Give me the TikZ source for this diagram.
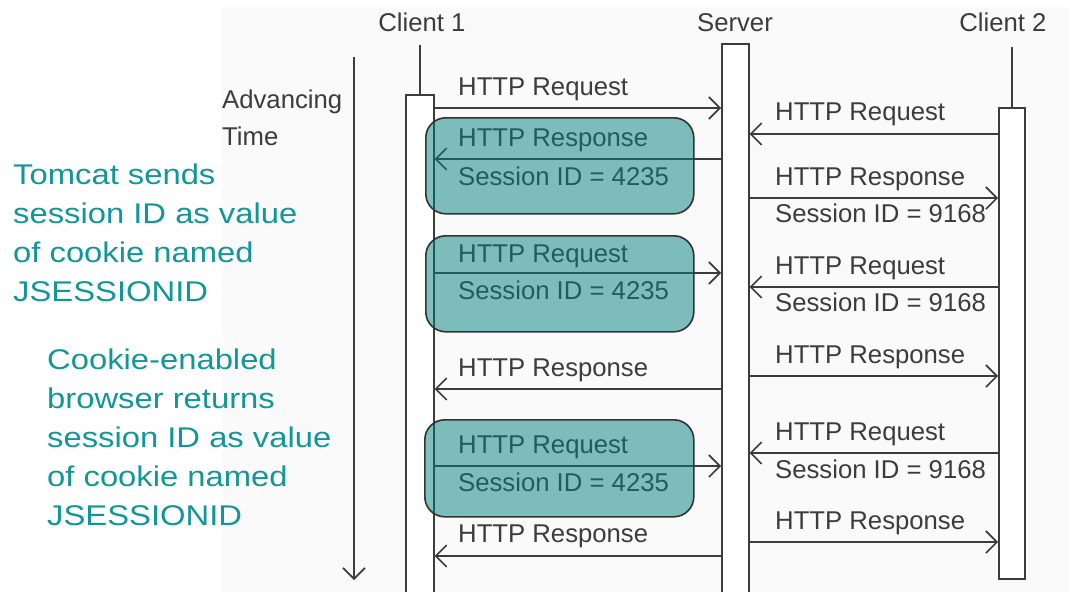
\documentclass[tikz,border=0pt]{standalone}
\usepackage{fontspec}
\setmainfont{Liberation Sans}
\newfontfamily\notefont[FakeStretch=1.15]{Liberation Sans}
\usepackage{tikz}
\usetikzlibrary{arrows.meta,positioning}
\definecolor{inkgray}{RGB}{60,60,60}
\definecolor{noteteal}{RGB}{18,150,152}
\definecolor{sessteal}{RGB}{0,128,126}
\definecolor{paper}{RGB}{250,250,250}
\tikzset{
    actbox/.style={draw=inkgray,fill=white,line width=1.6pt,inner sep=0pt,anchor=north west},
    msgline/.style={draw=inkgray,line width=1.6pt,->},
    sessbox/.style={draw=black!80,line width=1.6pt,fill=sessteal,fill opacity=0.5,
        rounded corners=20pt,inner sep=0pt,anchor=north west,
        minimum width=268pt,minimum height=96pt},
    msglabel/.style={text=inkgray,inner sep=0pt,anchor=base west},
    headlabel/.style={text=inkgray,inner sep=0pt,anchor=base},
    notetext/.style={text=noteteal,inner sep=0pt,anchor=north west,align=left,
        font=\notefont\fontsize{28.5}{39}\selectfont},
    every node/.style={font=\fontsize{25.7}{37}\selectfont}
}

\begin{document}
\begin{tikzpicture}[x=1pt,y=-1pt,>={Straight Barb[length=11pt,width=22pt]}]
  \useasboundingbox (0,0) rectangle (1069,592);
  \fill[paper] (222,7) rectangle (1069,592);

  % time axis
  \draw[inkgray,line width=1.6pt,->] (354,57) -- (354,580);
  \node[text=inkgray,inner sep=0pt,anchor=north west,align=left] (adv) at (222,90)
    {Advancing\\Time};

  % lifelines
  \node[actbox,minimum width=28pt,minimum height=498pt] (C1) at (405,94) {};
  \node[actbox,minimum width=27pt,minimum height=549pt] (Srv) at (721,43) {};
  \node[actbox,minimum width=26pt,minimum height=471pt] (C2) at (998,107) {};
  \draw[inkgray,line width=1.6pt] (C1.north) -- ++(0,-49);
  \draw[inkgray,line width=1.6pt] (C2.north) -- ++(0,-60);
  \node[headlabel] (hC1) at (422,31) {Client 1};
  \node[headlabel] (hSrv) at (735,31) {Server};
  \node[headlabel] (hC2) at (1003,31) {Client 2};

  % messages client 1 <-> server
  \foreach \y/\a/\b in {108/C1.east/Srv.west,159/Srv.west/C1.east,273/C1.east/Srv.west,
                        389/Srv.west/C1.east,466/C1.east/Srv.west,556/Srv.west/C1.east}{
    \draw[msgline] (\a |- 0,\y) -- (\b |- 0,\y);
  }
  % messages server <-> client 2
  \foreach \y/\a/\b in {134/C2.west/Srv.east,198/Srv.east/C2.west,287/C2.west/Srv.east,
                        376/Srv.east/C2.west,453/C2.west/Srv.east,542/Srv.east/C2.west}{
    \draw[msgline] (\a |- 0,\y) -- (\b |- 0,\y);
  }

  \foreach \t/\y [count=\i] in {HTTP Request/95,HTTP Response/146,Session ID = 4235/185,
      HTTP Request/262,Session ID = 4235/299,HTTP Response/376,HTTP Request/453,
      Session ID = 4235/491,HTTP Response/542}{
    \node[msglabel] (L\i) at (458,\y) {\t};
  }
  \foreach \t/\y [count=\i] in {HTTP Request/120,HTTP Response/185,Session ID = 9168/222,
      HTTP Request/274,Session ID = 9168/311,HTTP Response/363,HTTP Request/440,
      Session ID = 9168/478,HTTP Response/529}{
    \node[msglabel] (R\i) at (775,\y) {\t};
  }

  % session id boxes
  \node[sessbox] (S1) at (425,117) {};
  \node[sessbox] (S2) at (425,235) {};
  \node[sessbox,minimum width=269pt,minimum height=97pt] (S3) at (424,419) {};

  % notes
  \node[notetext] (n1) at (13,164)
    {Tomcat sends\\session ID as value\\of cookie named\\JSESSIONID};
  \node[notetext] (n2) at (47,349)
    {Cookie-enabled\\browser returns\\session ID as value\\of cookie named\\JSESSIONID};
\end{tikzpicture}
\end{document}
